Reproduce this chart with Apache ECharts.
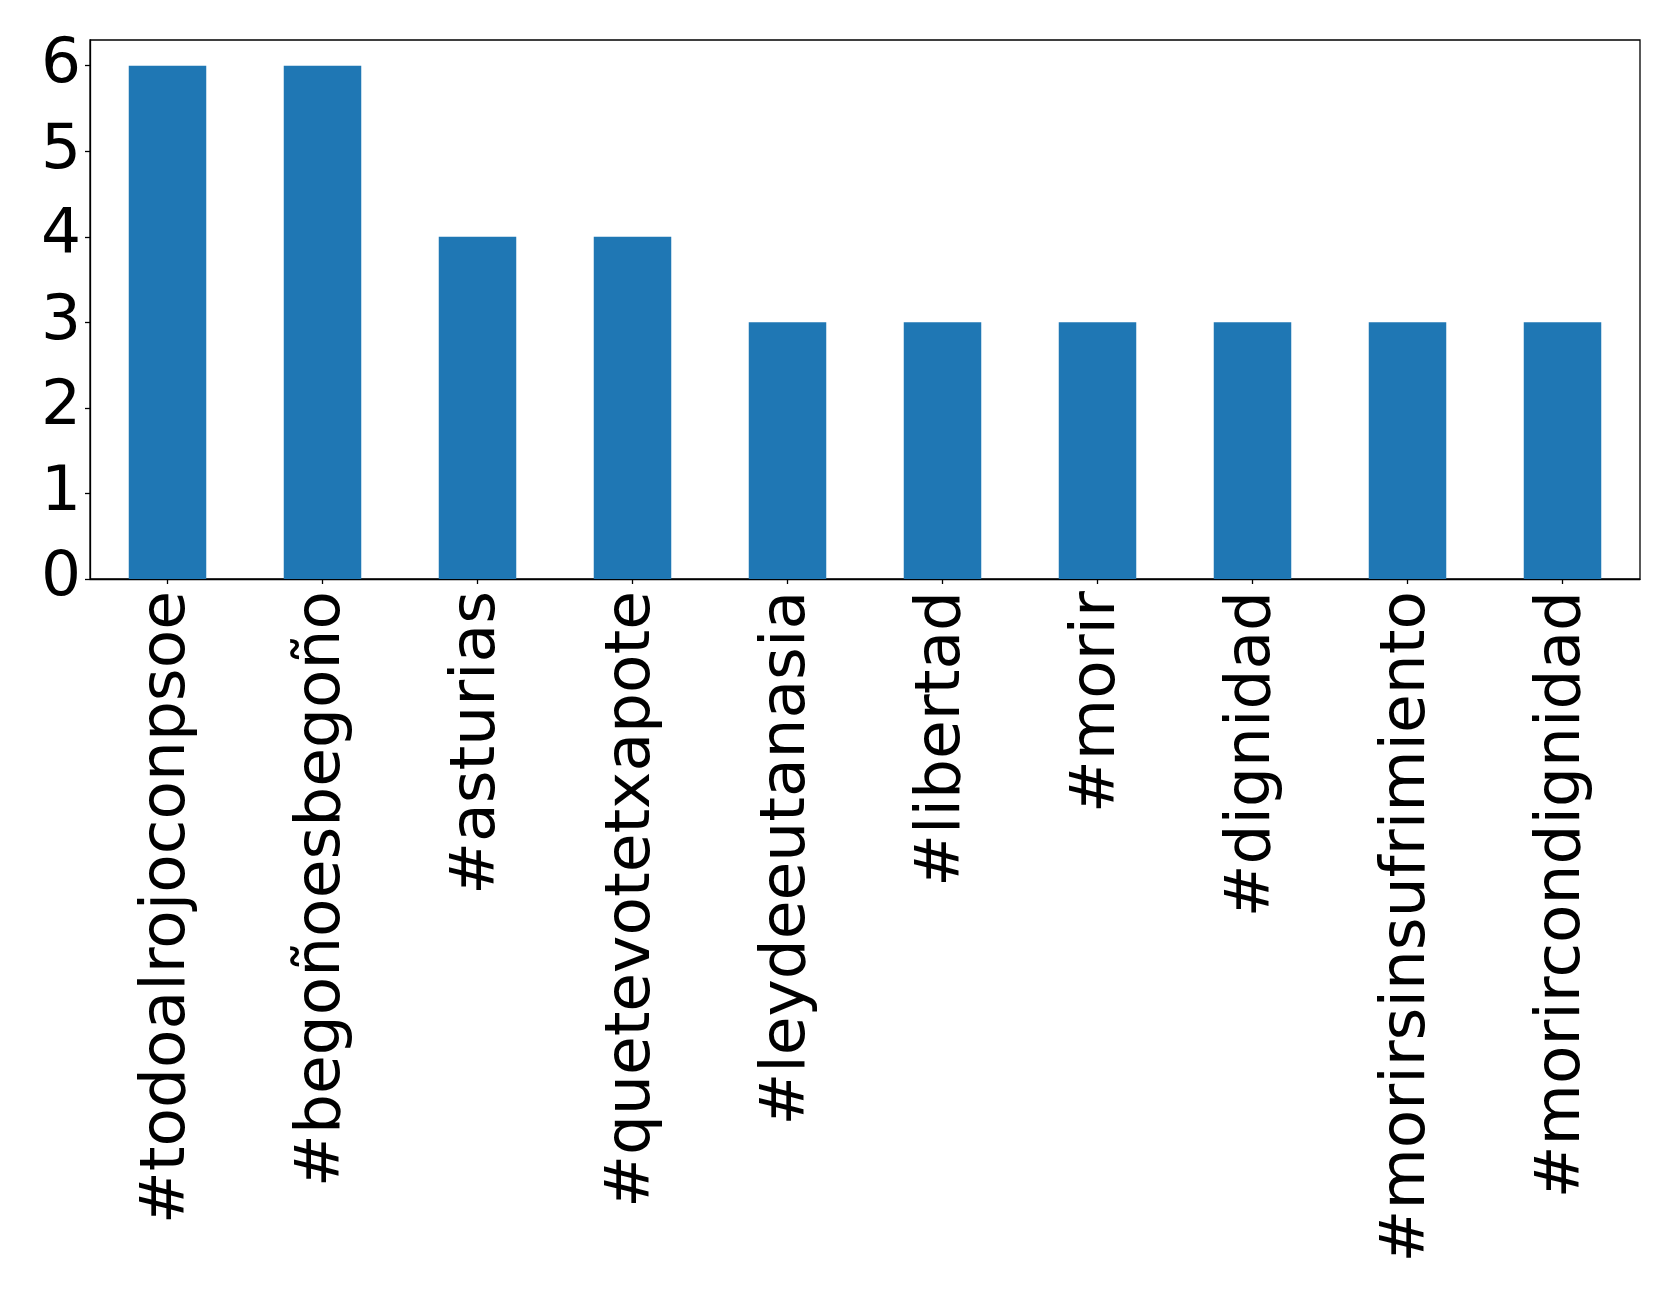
<!DOCTYPE html>
<html>
<head>
<meta charset="utf-8">
<style>html,body{margin:0;padding:0;background:#fff;}#c{width:1679px;height:1294px;}</style>
<script src="https://cdn.jsdelivr.net/npm/echarts@6/dist/echarts.min.js"></script>
</head>
<body>
<div id="c"></div>
<script>
const categories = ['#todoalrojoconpsoe','#begoñoesbegoño','#asturias','#quetevotetxapote','#leydeeutanasia','#libertad','#morir','#dignidad','#morirsinsufrimiento','#morircondignidad'];
const values = [6,6,4,4,3,3,3,3,3,3];
const yTicks = [0,1,2,3,4,5,6];

const chart = echarts.init(document.getElementById('c'), null, {renderer:'canvas'});
chart.setOption({
  animation:false,
  grid:{left:90, top:40, right:39, bottom:715, show:true, borderColor:'#000', borderWidth:1.3, backgroundColor:'transparent'},
  xAxis:{
    type:'category', data:categories,
    axisLine:{show:true, lineStyle:{color:'#000', width:1.3}},
    axisTick:{show:true, alignWithLabel:true, length:5, lineStyle:{color:'#000', width:1.3}},
    axisLabel:{rotate:90, interval:0, margin:12, padding:[0,0,8,0], color:'#000', fontSize:63, fontFamily:'DejaVu Sans'}
  },
  yAxis:{
    type:'value', min:0, max:6.3, interval:1,
    splitLine:{show:false},
    axisLine:{show:true, lineStyle:{color:'#000', width:1.3}},
    axisTick:{show:true, length:5, customValues:yTicks, lineStyle:{color:'#000', width:1.3}},
    axisLabel:{customValues:yTicks, margin:9, color:'#000', fontSize:63, fontFamily:'DejaVu Sans'}
  },
  series:[{type:'bar', data:values, barWidth:'50%', itemStyle:{color:'#1f77b4'}}]
});
</script>
</body>
</html>
